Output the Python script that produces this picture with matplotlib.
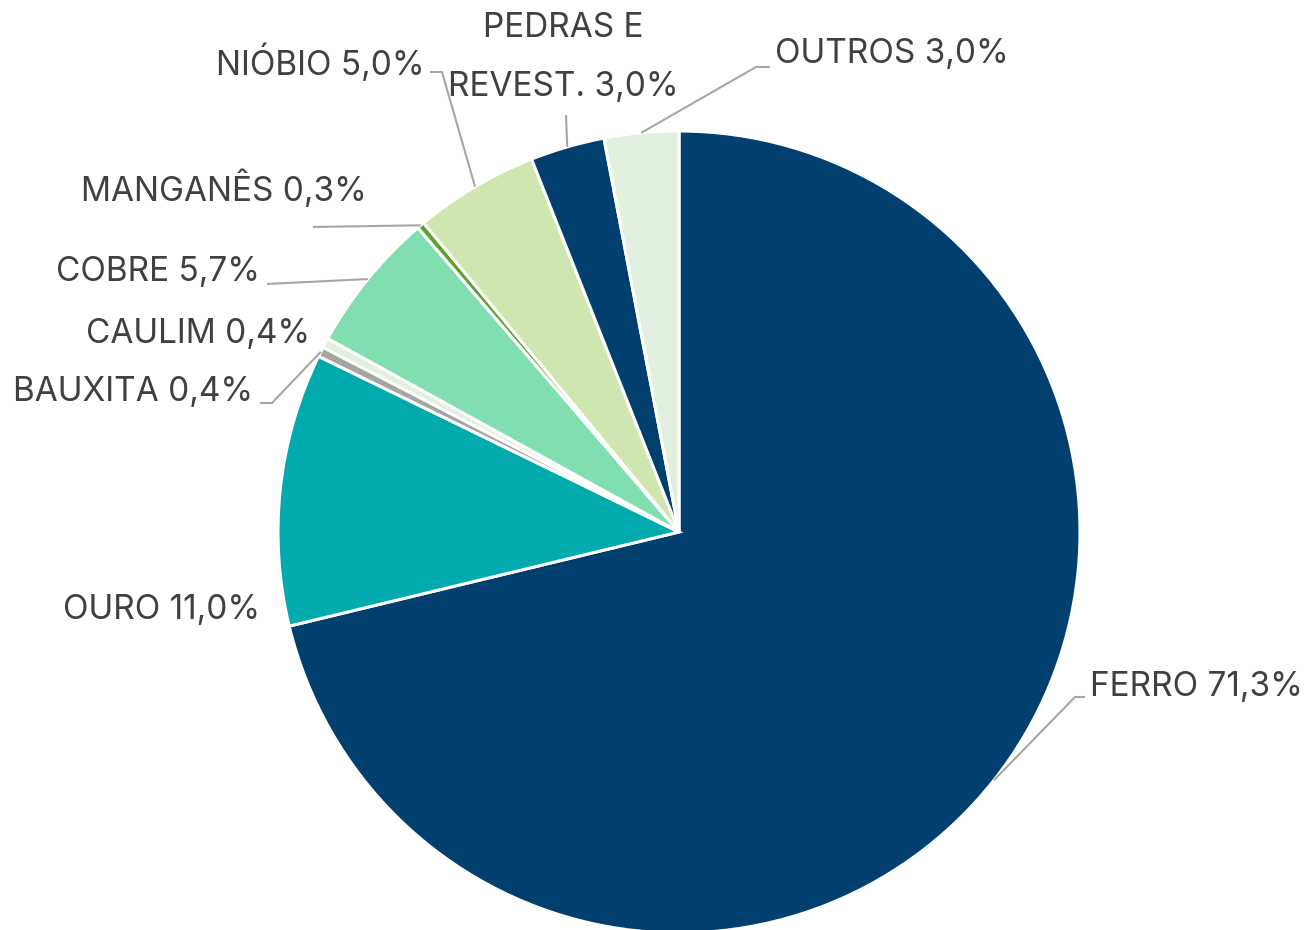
import matplotlib
matplotlib.use("Agg")
import matplotlib.pyplot as plt
import numpy as np

labels = ["FERRO", "OURO", "BAUXITA", "CAULIM", "COBRE", "MANGANÊS", "NIÓBIO", "PEDRAS E\nREVEST.", "OUTROS"]
values = [71.3, 11.0, 0.4, 0.4, 5.7, 0.3, 5.0, 3.0, 3.0]
colors = ["#003F6E", "#00AAAD", "#A5A5A5", "#E2F0DF", "#80DEB0", "#5DA131", "#CFE6B0", "#003F6E", "#E2F0DF"]

W, H = 1307, 930
fig = plt.figure(figsize=(W / 100, H / 100), dpi=100)
ax = fig.add_axes([0, 0, 1, 1])

cx, cy, R = 679, H - 532, 401
wedges, _ = ax.pie(values, colors=colors, startangle=90, counterclock=False,
                   center=(cx, cy), radius=R, normalize=True,
                   wedgeprops=dict(edgecolor="white", linewidth=2.2))
ax.set_xlim(0, W)
ax.set_ylim(0, H)
ax.set_aspect("equal")
ax.axis("off")

txt_color = "#404040"
line_color = "#A6A6A6"
fs = 24
font = "Inter"

def P(x, y):
    return (x, H - y)

# (text position px, ha, leader path px after wedge-edge start, or None)
layout = [
    ((1090, 687), "left", [(1075, 697), (1085, 697)]),
    ((260, 610), "right", None),
    ((253, 392), "right", [(272, 403), (260, 403)]),
    ((310, 334), "right", None),
    ((260, 272), "right", [(267, 284)]),
    ((367, 189), "right", [(313, 227)]),
    ((425, 63), "right", [(442, 72), (430, 72)]),
    ((563, 58), "center", [(566, 115)]),
    ((775, 54), "left", [(756, 67), (770, 67)]),
]

for w, lab, val, (pos, ha, path) in zip(wedges, labels, values, layout):
    ang = np.deg2rad((w.theta1 + w.theta2) / 2)
    text = lab + " " + f"{val:.1f}%".replace(".", ",")
    ax.text(*P(*pos), text, ha=ha, va="center", fontsize=fs, color=txt_color,
            family=font, linespacing=2.08, multialignment="center")
    if path is not None:
        sx = cx + R * np.cos(ang)
        sy = cy + R * np.sin(ang)
        pts = [(sx, sy)] + [P(*p) for p in path]
        xs, ys = zip(*pts)
        ax.plot(xs, ys, color=line_color, lw=1.5, solid_capstyle="butt")

fig.savefig("out.png", dpi=100)
